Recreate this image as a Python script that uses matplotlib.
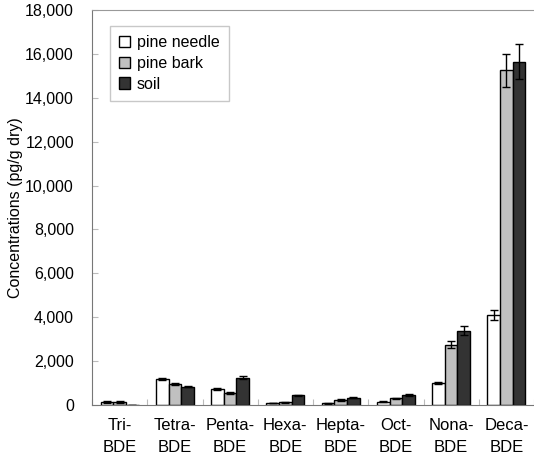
import numpy as np
import matplotlib.pyplot as plt

# PBDE homologue concentrations (pg/g dry)
categories = ['Tri-\nBDE', 'Tetra-\nBDE', 'Penta-\nBDE', 'Hexa-\nBDE',
              'Hepta-\nBDE', 'Oct-\nBDE', 'Nona-\nBDE', 'Deca-\nBDE']
pine_needle = [130, 1200, 720, 90, 80, 150, 990, 4100]
pine_bark = [130, 970, 550, 130, 230, 300, 2750, 15250]
soil = [10, 840, 1250, 440, 330, 440, 3390, 15650]
err_needle = [30, 40, 40, 20, 20, 30, 40, 210]
err_bark = [30, 40, 30, 20, 30, 30, 150, 760]
err_soil = [10, 40, 50, 30, 20, 40, 190, 800]
yticks = np.arange(0, 18001, 2000)

plt.rcParams['font.family'] = ['Liberation Sans', 'DejaVu Sans']
plt.rcParams['font.size'] = 11

fig = plt.figure(figsize=(5.34, 4.59), dpi=100)
ax = fig.add_axes([92/534, 1 - 405/459, 442/534, 395/459])

x = np.arange(len(categories))
w = 0.23
ekw = dict(ecolor='black', elinewidth=1, capsize=3, capthick=1)
ax.bar(x - w, pine_needle, w, yerr=err_needle, color='white', edgecolor='black',
       linewidth=1, label='pine needle', error_kw=ekw)
ax.bar(x, pine_bark, w, yerr=err_bark, color='#c0c0c0', edgecolor='black',
       linewidth=1, label='pine bark', error_kw=ekw)
ax.bar(x + w, soil, w, yerr=err_soil, color='#333333', edgecolor='black',
       linewidth=1, label='soil', error_kw=ekw)

ax.set_xlim(-0.5, len(categories) - 0.5)
ax.set_ylim(0, 18000)
ax.set_yticks(yticks)
ax.set_yticklabels([f'{v:,}' for v in yticks])
ax.tick_params(axis='y', direction='in', length=4, color='#bbbbbb', pad=13,
               labelsize=11.5)

# category labels centred, tick marks at the boundaries
ax.set_xticks(np.arange(-0.5, len(categories), 1))
ax.set_xticklabels([])
ax.tick_params(axis='x', direction='in', length=4, color='#bbbbbb')
for xi, lab in zip(x, categories):
    ax.text(xi, -0.033, lab, transform=ax.get_xaxis_transform(), ha='center',
            va='top', linespacing=1.55, fontsize=12)

ax.set_ylabel('Concentrations (pg/g dry)', fontsize=11.5)
ax.yaxis.set_label_coords(-0.155, 0.5)

for s in ['left', 'bottom']:
    ax.spines[s].set_color('#777777')
ax.spines['top'].set_color('#999999')
ax.spines['right'].set_visible(False)

leg = ax.legend(loc='upper left', bbox_to_anchor=(0.04, 0.96), frameon=True,
                fancybox=False, edgecolor='#bbbbbb', handlelength=0.7,
                handleheight=0.7, handletextpad=0.4, borderpad=0.6,
                labelspacing=0.35, borderaxespad=0, fontsize=11.5)
leg.get_frame().set_linewidth(1)

fig.savefig('out.png', dpi=100)
